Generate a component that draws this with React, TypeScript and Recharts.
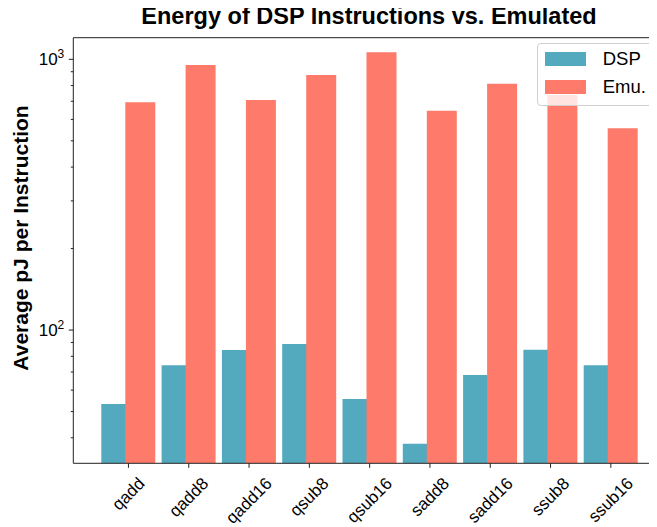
import React from "react";
import { BarChart, Bar, XAxis, YAxis, ReferenceLine } from "recharts";

// values (log scale, pJ per instruction)
const instructions = ["qadd", "qadd8", "qadd16", "qsub8", "qsub16", "sadd8", "sadd16", "ssub8", "ssub16"];
const dspEnergy = [53.3, 74.2, 84.4, 88.8, 55.6, 38.0, 68.2, 84.6, 74.1];
const emuEnergy = [694, 953, 707, 875, 1061, 646, 813, 738, 556];
const yTicks = [40, 50, 60, 70, 80, 90, 100, 200, 300, 400, 500, 600, 700, 800, 900, 1000];
const majorTicks = [100, 1000];

const Y_MIN = 32.2;
const Y_MAX = 1202;

const DSP_COLOR = "#53a9be";
const EMU_COLOR = "#fe7b6b";
const FONT = "'Liberation Sans', Arial, sans-serif";

const data = instructions.map((name, i) => ({
    name,
    dsp: dspEnergy[i],
    emu: emuEnergy[i],
}));

let ctx: CanvasRenderingContext2D | null = null;
function textWidth(s: string, font: string) {
    if (!ctx) ctx = document.createElement("canvas").getContext("2d");
    if (!ctx) return s.length * 9;
    ctx.font = font;
    return ctx.measureText(s).width;
}

function XTick(props: any) {
    const { x, y, payload } = props;
    const fs = 17;
    const w = textWidth(payload.value, `${fs}px ${FONT}`);
    const side = (w + fs * 0.9) / Math.SQRT2;
    const cy = y + 12 + side / 2;
    return (
        <g>
            <line x1={x} x2={x} y1={y} y2={y + 4.5} stroke="#222" strokeWidth={1} />
            <text
                x={x}
                y={cy}
                textAnchor="middle"
                dominantBaseline="central"
                transform={`rotate(-45 ${x} ${cy})`}
                fontSize={fs}
                fontFamily={FONT}
                fill="#000"
            >
                {payload.value}
            </text>
        </g>
    );
}

function YTick(props: any) {
    const { x, y, payload } = props;
    const major = majorTicks.includes(payload.value);
    return (
        <g>
            <line x1={x - (major ? 4.5 : 2.5)} x2={x} y1={y} y2={y} stroke="#222" strokeWidth={1} />
            {major && (
                <text x={x - 9} y={y + 6} textAnchor="end" fontSize={17} fontFamily={FONT} fill="#000">
                    10
                    <tspan fontSize={12} dy={-7.5}>
                        {String(Math.round(Math.log10(payload.value)))}
                    </tspan>
                </text>
            )}
        </g>
    );
}

export default function App() {
    return (
        <div style={{ position: "relative", width: 649, height: 519, fontFamily: FONT }}>
            {/* plot is wider than the window in the reference, so clip it */}
            <div style={{ position: "absolute", left: 0, top: 0, width: 649, height: 519, overflow: "hidden" }}>
                <BarChart
                    width={680}
                    height={519}
                    data={data}
                    margin={{ top: 29.7, right: 23, bottom: 0, left: 0 }}
                    barSize={30}
                    barGap={-6}
                >
                    <XAxis
                        dataKey="name"
                        height={63.7}
                        padding={{ left: 25, right: 24 }}
                        axisLine={{ stroke: "#222", strokeWidth: 1 }}
                        tickLine={false}
                        tickSize={0}
                        tickMargin={0}
                        interval={0}
                        tick={<XTick />}
                    />
                    <YAxis
                        scale="log"
                        domain={[Y_MIN, Y_MAX]}
                        allowDataOverflow
                        ticks={yTicks}
                        interval={0}
                        width={65.3}
                        axisLine={{ stroke: "#222", strokeWidth: 1 }}
                        tickLine={false}
                        tickSize={0}
                        tickMargin={0}
                        tick={<YTick />}
                    />
                    <ReferenceLine y={Y_MAX} stroke="#222" strokeWidth={1} />
                    <Bar dataKey="dsp" fill={DSP_COLOR} isAnimationActive={false} />
                    <Bar dataKey="emu" fill={EMU_COLOR} isAnimationActive={false} />
                </BarChart>
            </div>

            {/* title */}
            <div
                style={{
                    position: "absolute",
                    left: 61,
                    width: 600,
                    top: -4,
                    textAlign: "center",
                    fontSize: 23.5,
                    lineHeight: "24px",
                    fontWeight: "bold",
                    whiteSpace: "nowrap",
                }}
            >
                Energy of DSP Instructions vs. Emulated
            </div>

            {/* y axis label */}
            <div style={{ position: "absolute", left: 13, top: 230, width: 0, height: 0 }}>
                <div
                    style={{
                        position: "absolute",
                        transform: "translate(-50%, -50%) rotate(-90deg)",
                        fontSize: 21,
                        lineHeight: "22px",
                        fontWeight: "bold",
                        whiteSpace: "nowrap",
                    }}
                >
                    Average pJ per Instruction
                </div>
            </div>

            {/* legend */}
            <div
                style={{
                    position: "absolute",
                    left: 528.7,
                    top: 35.3,
                    width: 115,
                    height: 61,
                    border: "1px solid #d0d0d0",
                    borderRadius: 4,
                    background: "rgba(255,255,255,0.8)",
                    fontSize: 18.5,
                }}
            >
                {[
                    { label: "DSP", color: DSP_COLOR, top: 8 },
                    { label: "Emu.", color: EMU_COLOR, top: 36 },
                ].map((item) => (
                    <div key={item.label} style={{ position: "absolute", left: 7, top: item.top, height: 14 }}>
                        <div style={{ position: "absolute", left: 0, top: 0, width: 41, height: 14, background: item.color }} />
                        <div style={{ position: "absolute", left: 58, top: -4, lineHeight: "22px", whiteSpace: "nowrap" }}>
                            {item.label}
                        </div>
                    </div>
                ))}
            </div>
        </div>
    );
}
